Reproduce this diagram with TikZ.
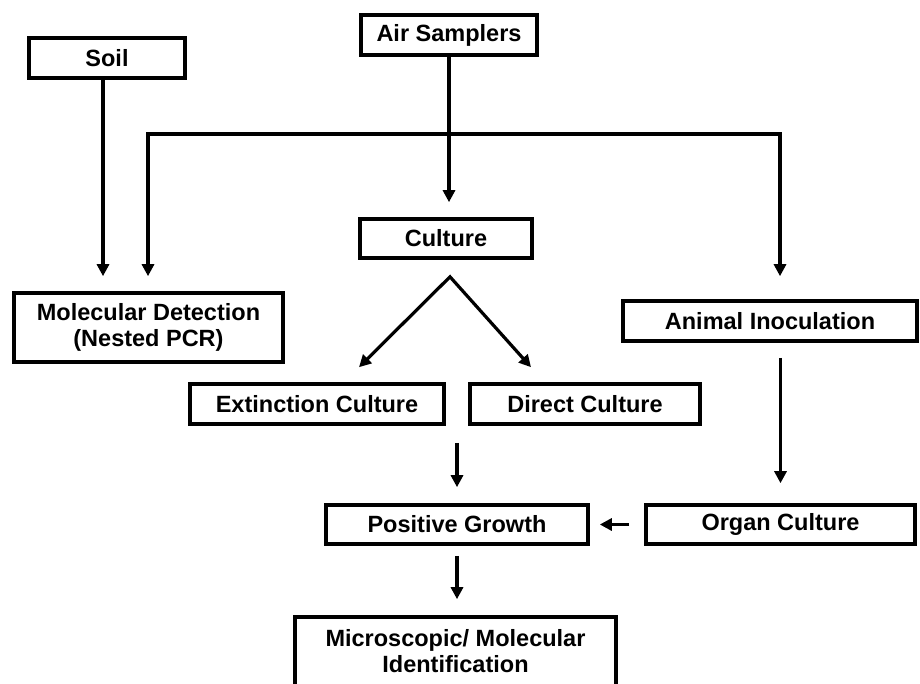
\documentclass[tikz,border=0pt]{standalone}
\usepackage{fontspec}
\setmainfont{Liberation Sans}
\usetikzlibrary{arrows.meta,positioning,calc}
\tikzset{flowtip/.tip={Triangle[length=12pt,width=12pt]}}

\begin{document}
\begin{tikzpicture}[x=1pt, y=-1pt,
  stage/.style={rectangle, draw, line width=3.6pt, fill=white, align=center, inner sep=0pt, font=\fontsize{23.5}{26}\selectfont\bfseries},
  flow/.style={line width=3.2pt, -flowtip}
]
  \useasboundingbox (0,0) rectangle (920,684);
  % sources
  \node[stage, minimum width=156pt, minimum height=40pt] (soil) at (107,58) {Soil};
  \node[stage, minimum width=176pt, minimum height=40pt] (air) at (449,35) {Air Samplers};
  \node[stage, minimum width=172pt, minimum height=39pt] (culture) at (446,238.5) {Culture};
  % second row
  \node[stage, minimum width=269pt, minimum height=69pt] (moldet) at (148.5,327.5) {Molecular Detection\\(Nested PCR)};
  \node[stage, minimum width=294pt, minimum height=40pt] (animal) at (770,321) {Animal Inoculation};
  \node[stage, minimum width=254pt, minimum height=40pt] (extinct) at (317,404) {Extinction Culture};
  \node[stage, minimum width=230pt, minimum height=40pt] (direct) at (585,404) {Direct Culture};
  % results
  \node[stage, minimum width=262pt, minimum height=39pt] (posgrowth) at (457,524.5) {Positive Growth};
  \node[stage, minimum width=269pt, minimum height=39pt] (organ) at (780.5,524.5) {Organ Culture};
  \node[stage, minimum width=321pt, minimum height=69pt] (microid) at (455.5,651.5) {Microscopic/ Molecular\\Identification};

  \coordinate (busL) at (148,134);
  \coordinate (busR) at (780,134);
  \coordinate (fork) at ([xshift=4pt,yshift=-17pt]culture.south);
  \coordinate (extTip) at ([xshift=42pt,yshift=15pt]extinct.north);
  \coordinate (dirTip) at ([xshift=-54pt,yshift=15pt]direct.north);
  \coordinate (join) at ($(extinct.south east)!0.5!(direct.south west)$);

  \draw[flow, shorten >=15pt] ([xshift=-4pt]soil.south) -- ([xshift=-4pt]soil.south |- moldet.north);
  \draw[flow, shorten >=15pt] (air.south) -- (air.south |- culture.north);
  \draw[flow, shorten >=15pt] (busR) -- (busL) -- (busL |- moldet.north);
  \draw[flow, shorten >=23pt] (busL) -- (busR) -- (busR |- animal.north);
  \draw[flow, flowtip-flowtip] (extTip) -- (fork) -- (dirTip);
  \draw[flow, shorten <=17pt, shorten >=16pt] (join) -- (join |- posgrowth.north);
  \draw[flow, shorten <=10pt, shorten >=16pt] (posgrowth.south) -- (posgrowth.south |- microid.north);
  \draw[flow, shorten <=15pt, shorten >=20pt] (animal.south -| organ.north) -- (organ.north);
  \draw[flow, shorten <=15pt, shorten >=10pt] (organ.west) -- (posgrowth.east);
\end{tikzpicture}
\end{document}
